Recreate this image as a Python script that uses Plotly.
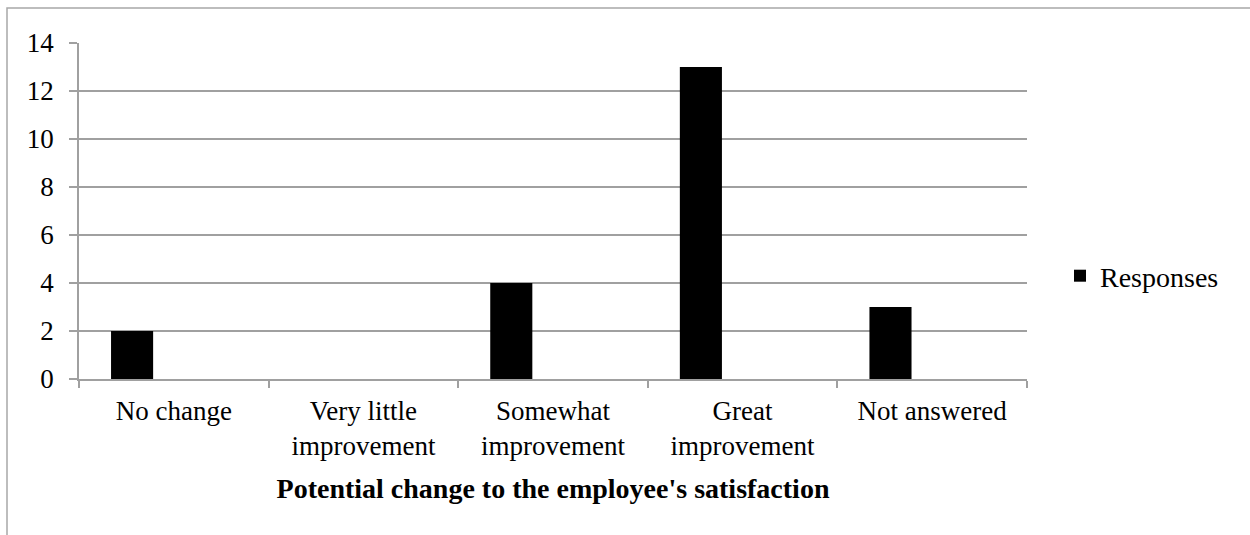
import plotly.graph_objects as go

# Survey responses by category
categories = ["No change", "Very little<br>improvement", "Somewhat<br>improvement",
              "Great<br>improvement", "Not answered"]
responses = [2, 0, 4, 13, 3]
y_ticks = [0, 2, 4, 6, 8, 10, 12, 14]

FONT = "Liberation Serif"
GRID = "#a0a0a0"
FS = 27

fig = go.Figure()
fig.add_trace(go.Bar(
    x=categories,
    y=responses,
    name="Responses",
    marker=dict(color="black", line=dict(width=0)),
    width=0.222,
    offset=-0.331,
))

# plot area: x 79..1027, y 43..379 (px)
L, R, T, B = 79, 223, 43, 156
W, H = 1250 - L - R, 535 - T - B

fig.update_layout(
    width=1250, height=535,
    margin=dict(l=L, r=R, t=T, b=B),
    paper_bgcolor="white", plot_bgcolor="white",
    font=dict(family=FONT, size=FS, color="black"),
    showlegend=True,
    legend=dict(x=(1060 - L) / W, y=(379 - 276) / H, xanchor="left", yanchor="middle",
                font=dict(family=FONT, size=28, color="black"),
                bgcolor="rgba(0,0,0,0)", itemwidth=30),
    xaxis=dict(
        type="category",
        tickson="boundaries",
        ticks="outside", ticklen=7, tickcolor=GRID, tickwidth=1.5,
        showline=True, linecolor=GRID, linewidth=1.5,
        showgrid=False,
        ticklabelstandoff=7,
        tickfont=dict(family=FONT, size=FS, color="black"),
        title=dict(text="<b>Potential change to the employee's satisfaction</b>",
                   font=dict(family=FONT, size=28, color="black"), standoff=18),
        automargin=False,
    ),
    yaxis=dict(
        range=[0, 14], tickvals=y_ticks,
        ticks="outside", ticklen=8, tickcolor=GRID, tickwidth=1.5,
        showline=True, linecolor=GRID, linewidth=1.5,
        showgrid=True, gridcolor=GRID, gridwidth=1.5,
        zeroline=False,
        ticklabelstandoff=10,
        tickfont=dict(family=FONT, size=FS, color="black"),
        automargin=False,
    ),
    shapes=[dict(type="rect", xref="paper", yref="paper",
                 x0=(7 - L) / W, x1=1.5, y0=-1.0, y1=1 + (T - 8) / H,
                 line=dict(color="#a8a8a8", width=1.5), fillcolor="rgba(0,0,0,0)",
                 layer="below")],
)

fig.write_html("out.html")
